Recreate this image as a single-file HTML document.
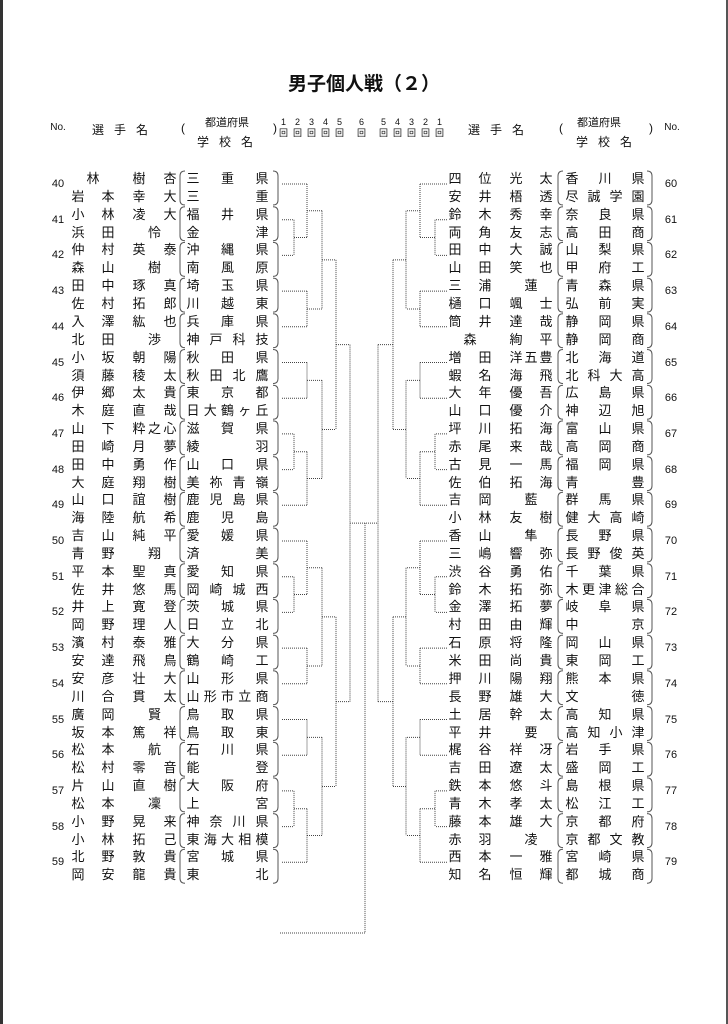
<!DOCTYPE html>
<html><head><meta charset="utf-8">
<style>
html,body{margin:0;padding:0;background:#fff;}
#pg{position:relative;width:728px;height:1024px;overflow:hidden;background:#fff;font-family:"Liberation Sans","Noto Sans CJK JP",sans-serif;color:#111;}
.c{position:absolute;width:16px;text-align:center;line-height:18px;height:18px;font-size:13px;}
.h{position:absolute;text-align:center;white-space:nowrap;}
svg{position:absolute;left:0;top:0;}
</style></head><body>
<div id="pg">
<div style="position:absolute;left:0;top:0;width:3px;height:1024px;background:#333"></div>
<div style="position:absolute;right:0;top:0;width:2px;height:1024px;background:#555"></div>
<div class="h" style="left:214px;width:300px;top:72px;font-size:19px;font-weight:bold;line-height:26px;">男子個人戦（２）</div>

<div class="h" style="left:46px;width:24px;top:122px;font-size:10px;">No.</div>
<div class="h" style="left:90px;width:70px;top:121px;font-size:12px;letter-spacing:10px;">選手名</div>
<div class="h" style="left:178px;width:10px;top:121px;font-size:12px;">(</div>
<div class="h" style="left:197px;width:60px;top:114px;font-size:11px;">都道府県</div>
<div class="h" style="left:197px;width:66px;top:133px;font-size:12px;letter-spacing:10px;">学校名</div>
<div class="h" style="left:270px;width:10px;top:121px;font-size:12px;">)</div>

<div class="h" style="left:466px;width:70px;top:121px;font-size:12px;letter-spacing:10px;">選手名</div>
<div class="h" style="left:556px;width:10px;top:121px;font-size:12px;">(</div>
<div class="h" style="left:569px;width:60px;top:114px;font-size:11px;">都道府県</div>
<div class="h" style="left:576px;width:66px;top:133px;font-size:12px;letter-spacing:10px;">学校名</div>
<div class="h" style="left:646px;width:10px;top:121px;font-size:12px;">)</div>
<div class="h" style="left:660px;width:24px;top:122px;font-size:10px;">No.</div>

<div class="h" style="left:281px;top:117px;font-size:9px;line-height:10px;">1</div>
<div class="h" style="left:295px;top:117px;font-size:9px;line-height:10px;">2</div>
<div class="h" style="left:309px;top:117px;font-size:9px;line-height:10px;">3</div>
<div class="h" style="left:323px;top:117px;font-size:9px;line-height:10px;">4</div>
<div class="h" style="left:337px;top:117px;font-size:9px;line-height:10px;">5</div>
<div class="h" style="left:359px;top:117px;font-size:9px;line-height:10px;">6</div>
<div class="h" style="left:381px;top:117px;font-size:9px;line-height:10px;">5</div>
<div class="h" style="left:395px;top:117px;font-size:9px;line-height:10px;">4</div>
<div class="h" style="left:409px;top:117px;font-size:9px;line-height:10px;">3</div>
<div class="h" style="left:423px;top:117px;font-size:9px;line-height:10px;">2</div>
<div class="h" style="left:437px;top:117px;font-size:9px;line-height:10px;">1</div>
<div class="h" style="left:279px;top:128px;font-size:9px;line-height:10px;">回</div>
<div class="h" style="left:293px;top:128px;font-size:9px;line-height:10px;">回</div>
<div class="h" style="left:307px;top:128px;font-size:9px;line-height:10px;">回</div>
<div class="h" style="left:321px;top:128px;font-size:9px;line-height:10px;">回</div>
<div class="h" style="left:335px;top:128px;font-size:9px;line-height:10px;">回</div>
<div class="h" style="left:357px;top:128px;font-size:9px;line-height:10px;">回</div>
<div class="h" style="left:379px;top:128px;font-size:9px;line-height:10px;">回</div>
<div class="h" style="left:393px;top:128px;font-size:9px;line-height:10px;">回</div>
<div class="h" style="left:407px;top:128px;font-size:9px;line-height:10px;">回</div>
<div class="h" style="left:421px;top:128px;font-size:9px;line-height:10px;">回</div>
<div class="h" style="left:435px;top:128px;font-size:9px;line-height:10px;">回</div>

<svg id="sv" width="728" height="1024" xmlns="http://www.w3.org/2000/svg"></svg>
</div>
<script>
var L=[
["40","林|樹杏","岩本|幸大","三重県","三重"],
["41","小林|凌大","浜田|怜","福井県","金津"],
["42","仲村|英泰","森山|樹","沖縄県","南風原"],
["43","田中|琢真","佐村|拓郎","埼玉県","川越東"],
["44","入澤|紘也","北田|渉","兵庫県","神戸科技"],
["45","小坂|朝陽","須藤|稜太","秋田県","秋田北鷹"],
["46","伊郷|太貴","木庭|直哉","東京都","日大鶴ヶ丘"],
["47","山下|粋之心","田崎|月夢","滋賀県","綾羽"],
["48","田中|勇作","大庭|翔樹","山口県","美祢青嶺"],
["49","山口|誼樹","海陸|航希","鹿児島県","鹿児島"],
["50","吉山|純平","青野|翔","愛媛県","済美"],
["51","平本|聖真","佐井|悠馬","愛知県","岡崎城西"],
["52","井上|寛登","岡野|理人","茨城県","日立北"],
["53","濱村|泰雅","安達|飛鳥","大分県","鶴崎工"],
["54","安彦|壮大","川合|貫太","山形県","山形市立商"],
["55","廣岡|賢","坂本|篤祥","鳥取県","鳥取東"],
["56","松本|航","松村|零音","石川県","能登"],
["57","片山|直樹","松本|凜","大阪府","上宮"],
["58","小野|晃来","小林|拓己","神奈川県","東海大相模"],
["59","北野|敦貴","岡安|龍貴","宮城県","東北"]];
var R=[
["60","四位|光太","安井|梧透","香川県","尽誠学園"],
["61","鈴木|秀幸","両角|友志","奈良県","高田商"],
["62","田中|大誠","山田|笑也","山梨県","甲府工"],
["63","三浦|蓮","樋口|颯士","青森県","弘前実"],
["64","筒井|達哉","森|絢平","静岡県","静岡商"],
["65","増田|洋五豊","蝦名|海飛","北海道","北科大高"],
["66","大年|優吾","山口|優介","広島県","神辺旭"],
["67","坪川|拓海","赤尾|来哉","富山県","高岡商"],
["68","古見|一馬","佐伯|拓海","福岡県","青豊"],
["69","吉岡|藍","小林|友樹","群馬県","健大高崎"],
["70","香山|隼","三嶋|響弥","長野県","長野俊英"],
["71","渋谷|勇佑","鈴木|拓弥","千葉県","木更津総合"],
["72","金澤|拓夢","村田|由輝","岐阜県","中京"],
["73","石原|将隆","米田|尚貴","岡山県","東岡工"],
["74","押川|陽翔","長野|雄大","熊本県","文徳"],
["75","土居|幹太","平井|要","高知県","高知小津"],
["76","梶谷|祥冴","吉田|遼太","岩手県","盛岡工"],
["77","鉄本|悠斗","青木|孝太","島根県","松江工"],
["78","藤本|雄大","赤羽|凌","京都府","京都文教"],
["79","西本|一雅","知名|恒輝","宮崎県","都城商"]];
var pg=document.getElementById('pg'),sv=document.getElementById('sv');
function put(x,y,ch,fs){var d=document.createElement('div');d.className='c';d.style.left=(x-8)+'px';d.style.top=(y-9)+'px';if(fs)d.style.fontSize=fs;d.textContent=ch;pg.appendChild(d);}
function seq(s,x1,x2,y){var a=Array.from(s),n=a.length;if(n==1){put((x1+x2)/2,y,a[0]);return;}for(var i=0;i<n;i++)put(x1+(x2-x1)*i/(n-1),y,a[i]);}
function name(s,y,p){var q=s.split('|');seq(q[0],p[0],p[1],y);seq(q[1],p[2],p[3],y);}
var NS='http://www.w3.org/2000/svg';
function el(t,a){var e=document.createElementNS(NS,t);for(var k in a)e.setAttribute(k,a[k]);sv.appendChild(e);return e;}
function ln(x1,y1,x2,y2){el('line',{x1:x1,y1:y1,x2:x2,y2:y2,stroke:'#444','stroke-width':1,'stroke-dasharray':'1 1'});}
function paren(x,t,b,dir){var r=5*dir;el('path',{d:'M'+(x+r)+' '+t+' Q'+x+' '+t+' '+x+' '+(t+5)+' L'+x+' '+(b-5)+' Q'+x+' '+b+' '+(x+r)+' '+b,fill:'none',stroke:'#555','stroke-width':1});}
function Y(k){return 179+35.7*k;}
function side(D,np,sc,pl,pr,nx){
 for(var k=0;k<20;k++){var e=D[k],y=Y(k);
  put(nx,y+5,e[0],'11px');
  name(e[1],y,np);name(e[2],y+18,np);
  seq(e[3],sc[0],sc[1],y);seq(e[4],sc[0],sc[1],y+18);
  paren(pl,y-8,y+26,1);paren(pr,y-8,y+26,-1);}
}
side(L,[78,108,139,170],[193,262],180,278,58);
side(R,[455,485,516,546],[572,638],558,652,671);
function leafY(k){return Y(k)+5;}
var tree=[[[[0,[1,2]],[3,4]],[[5,6],[[7,8],9]]],[[[10,[11,12]],[13,14]],[[15,16],[[17,18],19]]]];
function draw(n,d,X,start){
 if(typeof n=='number')return leafY(n);
 var x=X[d],ys=[];
 for(var i=0;i<2;i++){var c=n[i],y=draw(c,d+1,X,start);ys.push(y);
  var sx=(typeof c=='number')?start:X[d+1];ln(sx,y,x,y);}
 ln(x,ys[0],x,ys[1]);return (ys[0]+ys[1])/2;
}
var yl=draw(tree,0,[350,336,322,307,294],282);
var yr=draw(tree,0,[378,393,406,420,435],447);
ln(350,yl,378,yr);
ln(365,yl,365,933);
ln(280,933,365,933);
</script>
</body></html>
